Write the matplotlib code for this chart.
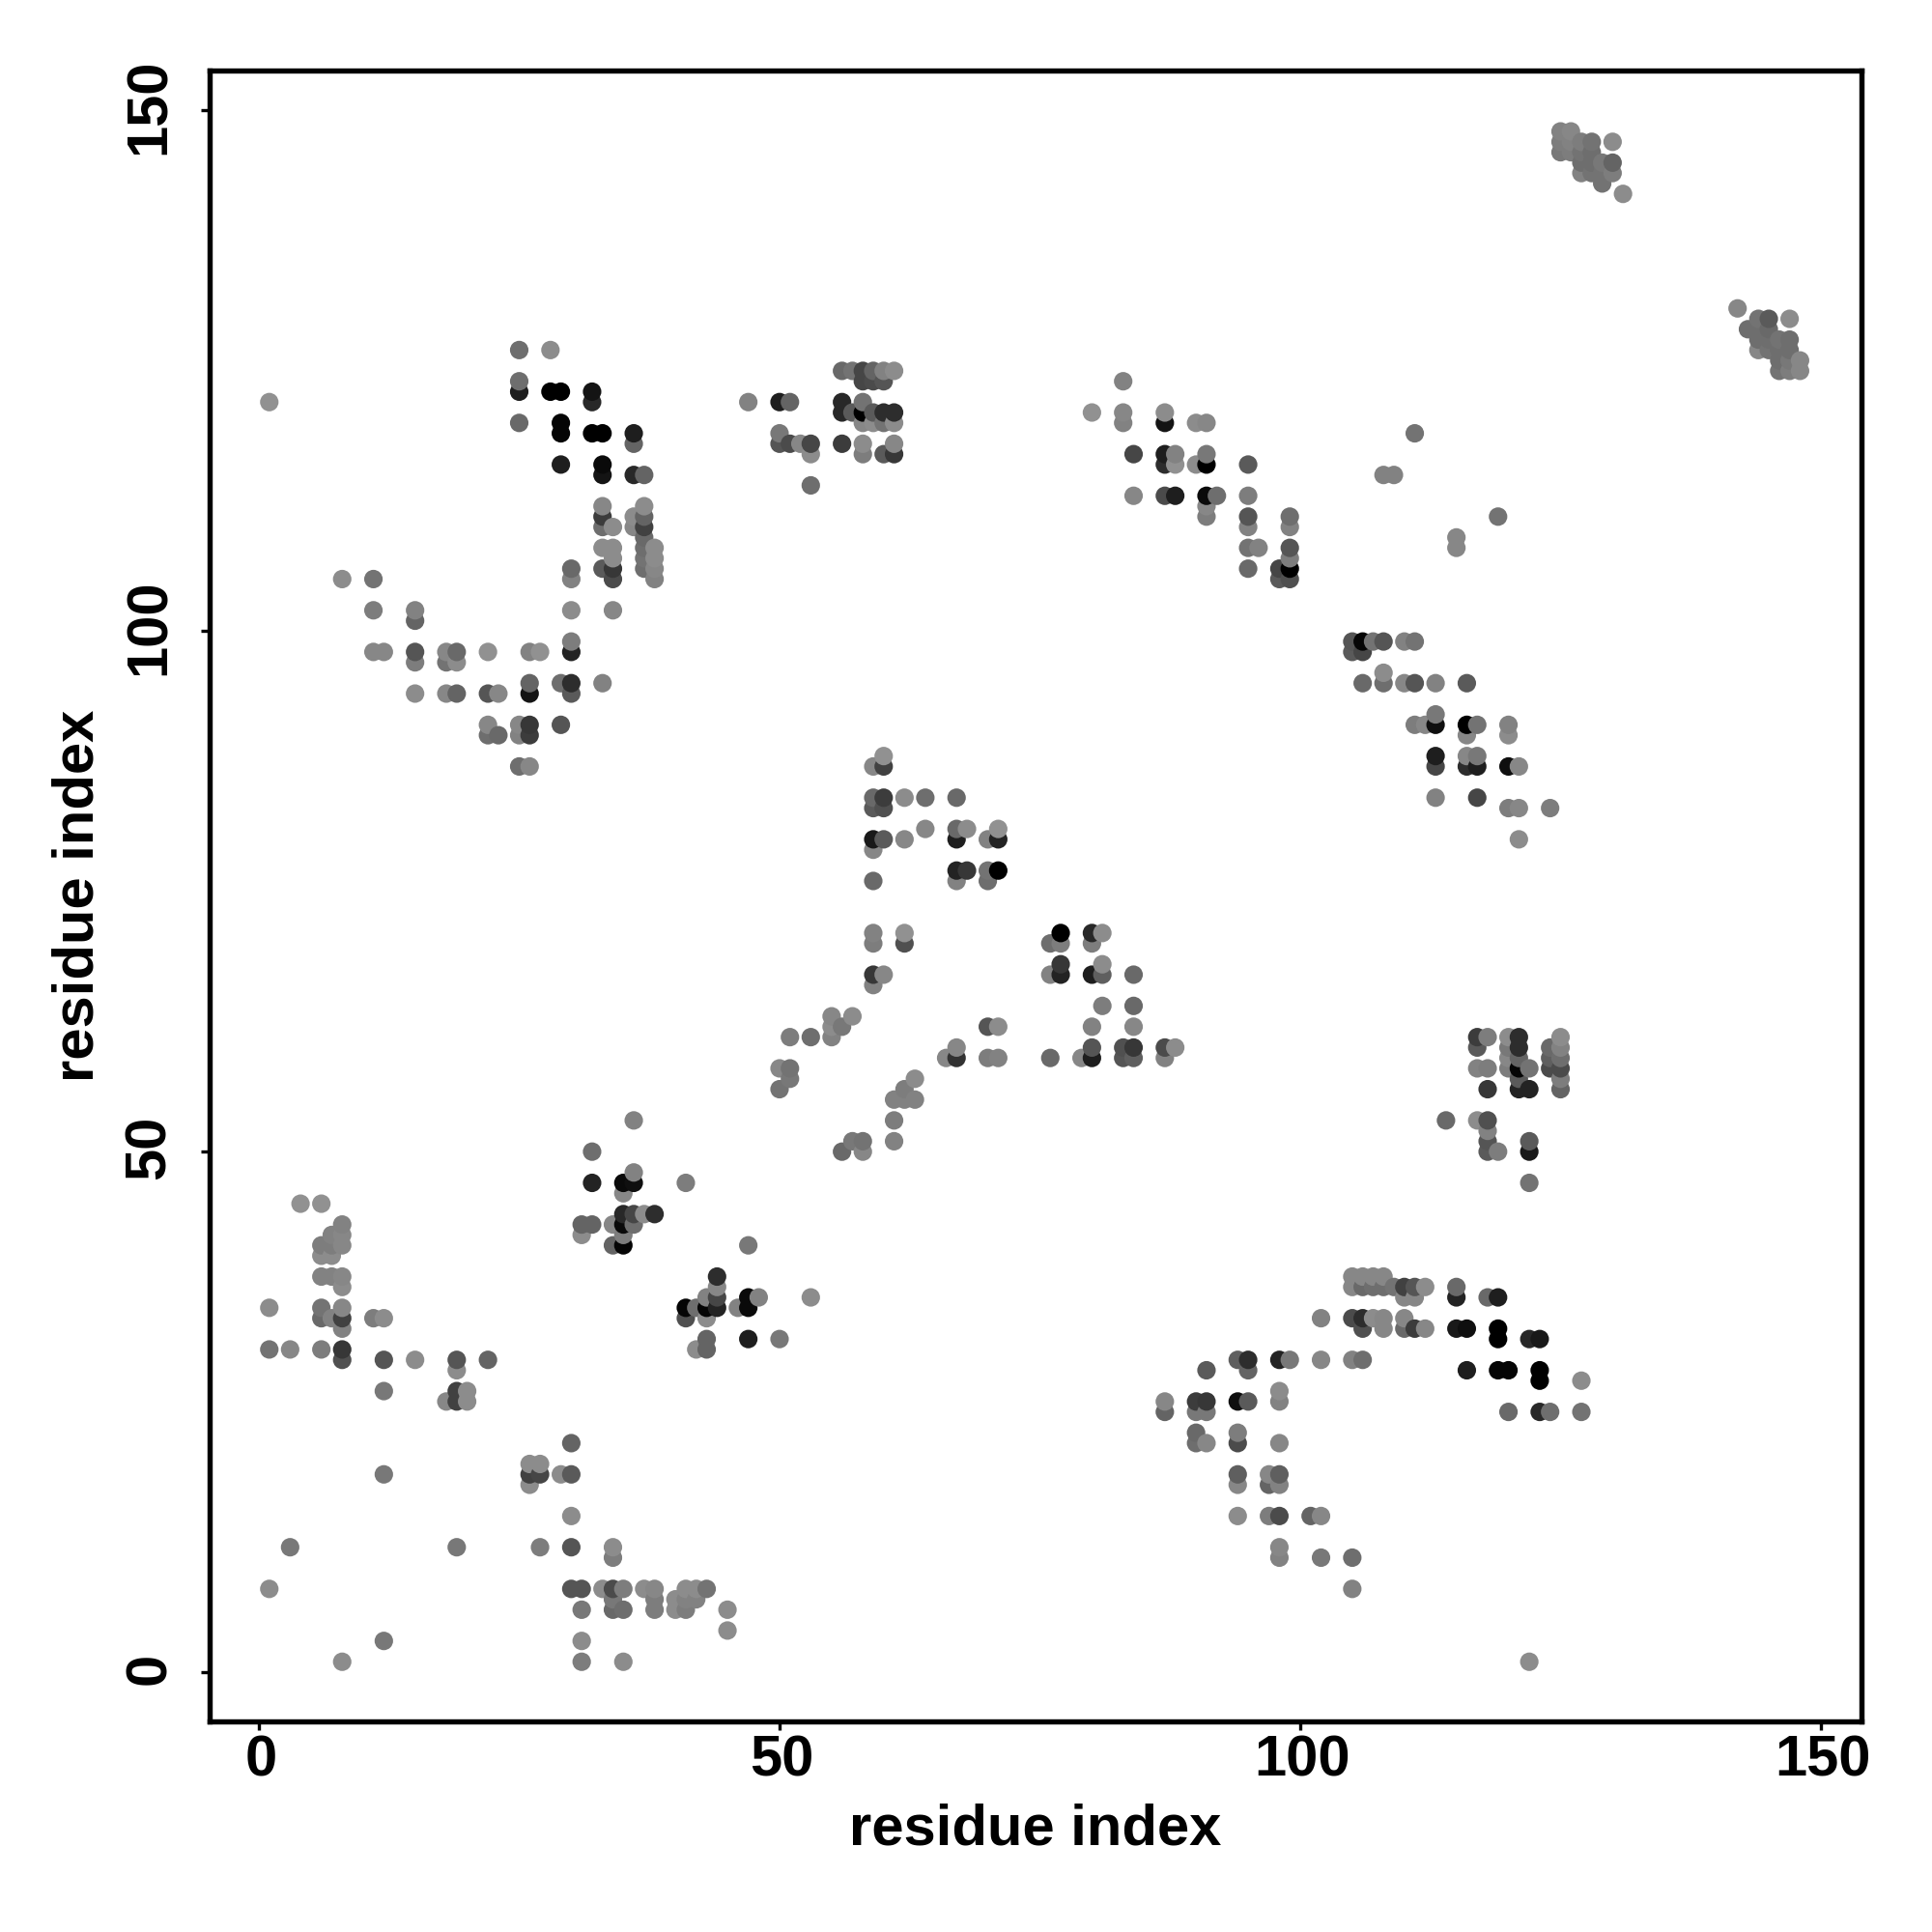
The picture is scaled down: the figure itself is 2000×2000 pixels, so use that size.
import numpy as np
import pandas as pd
import matplotlib
matplotlib.use("Agg")
import matplotlib.pyplot as plt
from matplotlib.transforms import ScaledTranslation

plt.rcParams["font.family"] = ["Liberation Sans", "DejaVu Sans"]
plt.rcParams["font.weight"] = "bold"

TICKS = [0, 50, 100, 150]
AXIS_LABEL = "residue index"

# bottom-left contacts
a_x = [4, 6, 8, 7, 8, 6, 7, 8, 6, 7, 6, 7, 8, 8, 1, 6, 8,
       6, 7, 8, 11, 12, 8, 1, 3, 6, 8, 8, 12, 15, 19, 22, 19,
       12, 19, 20, 18, 19, 20, 30, 26, 27, 12, 26, 27, 29, 30, 26, 30,
       3, 19, 27, 30, 34, 34, 1, 30, 31, 33, 34, 35, 37, 38, 41, 42, 43,
       34, 38, 40, 41, 42, 31, 34, 35, 38, 40, 41, 45, 45, 12, 31, 8, 31, 35]
a_y = [45, 45, 43, 42, 42, 41, 41, 41, 40, 40, 38, 38, 38, 37, 35, 35, 35,
       34, 34, 34, 34, 34, 33, 31, 31, 31, 31, 30, 30, 30, 30, 30, 29,
       27, 27, 27, 26, 26, 26, 22, 20, 20, 19, 19, 19, 19, 19, 18, 15,
       12, 12, 12, 12, 12, 11, 8, 8, 8, 8, 8, 8, 8, 8, 8, 8, 8,
       7, 7, 7, 7, 7, 6, 6, 6, 6, 6, 6, 6, 4, 3, 3, 1, 1, 1]
a_g = [145, 145, 130, 130, 135, 125, 125, 135, 140, 140, 130, 130, 135, 140, 140, 115, 135,
       105, 130, 65, 125, 140, 130, 115, 135, 125, 55, 80, 85, 140, 85, 100, 140,
       120, 65, 140, 135, 65, 140, 100, 140, 140, 120, 65, 70, 140, 90, 140, 140,
       120, 120, 125, 85, 140, 125, 140, 85, 85, 140, 75, 125, 140, 135, 140, 140, 115,
       120, 125, 140, 130, 130, 120, 105, 110, 125, 140, 125, 140, 140, 120, 140, 140, 125, 140]

# block around (40, 40)
b_x = [36, 32, 36, 32, 35, 36, 41, 35, 35, 36, 37, 38, 31, 32, 34, 35, 36, 31, 35, 34, 35, 47,
       44, 44, 43, 44, 47, 48, 53, 41, 42, 43, 44, 46, 47, 41, 43, 43, 47, 50, 42, 43]
b_y = [53, 50, 48, 47, 47, 47, 47, 46, 44, 44, 44, 44, 43, 43, 43, 43, 43, 42, 42, 41, 41, 41,
       38, 37, 36, 36, 36, 36, 36, 35, 35, 35, 35, 35, 35, 34, 34, 32, 32, 32, 31, 31]
b_g = [130, 110, 130, 35, 10, 15, 125, 135, 40, 70, 140, 45, 100, 100, 135, 10, 110, 140, 125, 100, 5, 120,
       45, 135, 130, 70, 10, 130, 140, 5, 110, 5, 35, 130, 10, 80, 140, 100, 30, 120, 140, 100]

# top-left arm
c_x = [1, 25, 28, 25, 25, 28, 29, 32, 32, 25, 29, 29, 32, 33, 36, 36, 29, 33, 33, 36, 37,
       33, 33, 33, 34, 36, 36, 37, 37, 37, 37, 37, 37, 37, 38, 38, 38, 38, 33, 34, 34,
       33, 34, 34, 30, 30, 8, 11, 11, 15, 15, 30, 34, 30, 30, 11, 12, 15, 15, 18, 19, 18, 19,
       22, 26, 27, 26, 26, 29, 30, 30, 33, 15, 18, 19, 22, 23, 22, 22, 23,
       25, 26, 25, 26, 29, 25, 26]
c_y = [122, 127, 127, 124, 123, 123, 123, 123, 122, 120, 120, 119, 119, 119, 119, 118, 116, 116, 115, 115, 115,
       112, 111, 110, 110, 111, 110, 112, 111, 110, 109, 108, 107, 106, 108, 107, 106, 105, 108, 108, 107,
       106, 106, 105, 106, 105, 105, 105, 102, 102, 101, 102, 102, 99, 98, 98, 98, 98, 97, 98, 98, 97, 97,
       98, 98, 98, 95, 94, 95, 95, 94, 95, 94, 94, 94, 94, 94, 91, 90, 90,
       91, 91, 90, 90, 91, 87, 87]
c_g = [145, 110, 140, 110, 30, 0, 0, 20, 40, 105, 5, 5, 0, 0, 30, 100, 30, 10, 20, 40, 100,
       135, 60, 110, 140, 140, 135, 140, 100, 65, 105, 110, 115, 110, 140, 140, 135, 130, 140, 140, 140,
       90, 55, 75, 105, 130, 140, 115, 125, 130, 100, 140, 135, 125, 35, 135, 135, 85, 125, 135, 105, 115, 140,
       145, 130, 145, 100, 20, 110, 45, 90, 130, 140, 135, 100, 85, 135, 135, 110, 105,
       135, 55, 130, 60, 85, 110, 135]

# top-middle block
d_x = [56, 57, 58, 59, 60, 61, 58, 59, 60, 47, 50, 51, 56, 58, 56, 57, 58, 59, 60, 61,
       58, 59, 60, 61, 50, 50, 51, 52, 53, 56, 58, 61, 53, 58, 60, 61, 53]
d_y = [125, 125, 125, 125, 125, 125, 124, 124, 124, 122, 122, 122, 122, 122, 121, 121, 121, 121, 121, 121,
       120, 120, 120, 120, 119, 118, 118, 118, 118, 118, 118, 118, 117, 117, 117, 117, 114]
d_g = [105, 115, 70, 100, 130, 140, 70, 75, 85, 130, 30, 100, 40, 115, 40, 90, 0, 90, 45, 45,
       135, 140, 115, 140, 120, 85, 75, 135, 70, 60, 140, 135, 140, 125, 90, 55, 110]

# diagonal strand from (80, 121)
e_x = [83, 80, 83, 87, 83, 87, 90, 91, 84, 87, 88, 91, 87, 88, 90, 91, 95, 84, 87, 88, 91, 92, 95,
       91, 91, 95, 99, 95, 99, 95, 96, 99, 99, 95, 98, 99, 98, 99]
e_y = [124, 121, 121, 121, 120, 120, 120, 120, 117, 117, 117, 117, 116, 116, 116, 116, 116, 113, 113, 113, 113, 113, 113,
       112, 111, 111, 111, 110, 110, 108, 108, 108, 107, 106, 106, 106, 105, 105]
e_g = [130, 145, 135, 140, 130, 20, 140, 135, 70, 30, 130, 120, 45, 145, 140, 0, 90, 135, 75, 30, 10, 110, 125,
       135, 125, 85, 110, 130, 130, 115, 130, 85, 125, 105, 70, 0, 90, 80]

# centre, upper block
f_x = [60, 59, 60, 59, 60, 62, 64, 67, 59, 60, 64, 67, 68, 71, 59, 60, 62, 67, 70, 71, 59,
       67, 68, 70, 71, 59, 67, 70, 59, 62, 59, 62, 59, 60, 59]
f_y = [88, 87, 87, 84, 84, 84, 84, 84, 83, 83, 81, 81, 81, 81, 80, 80, 80, 80, 80, 80, 79,
       77, 77, 77, 77, 76, 76, 76, 71, 71, 70, 70, 67, 67, 66]
f_g = [145, 135, 65, 105, 60, 140, 110, 105, 90, 80, 135, 105, 140, 145, 25, 90, 135, 30, 130, 35, 135,
       35, 55, 115, 0, 105, 130, 110, 130, 145, 125, 80, 55, 135, 130]

# centre, lower strands
g_x = [55, 57, 55, 56, 51, 53, 55, 50, 51, 51, 50, 63, 62, 61, 62, 63, 61, 61, 57, 58, 56, 58,
       70, 71, 67, 66, 67, 70, 71]
g_y = [63, 63, 62, 62, 61, 61, 61, 58, 58, 57, 56, 57, 56, 55, 55, 55, 53, 51, 51, 51, 50, 50,
       62, 62, 60, 59, 59, 59, 59]
g_g = [135, 140, 140, 120, 125, 110, 130, 135, 115, 120, 115, 140, 125, 130, 130, 130, 125, 130, 120, 115, 105, 135,
       85, 140, 135, 135, 50, 125, 130]

# triangle right of centre
h_x = [77, 80, 81, 76, 77, 80, 77, 81, 76, 77, 80, 81, 84, 81, 84, 80, 84, 80, 83, 84, 87, 88,
       76, 79, 80, 83, 84, 87]
h_y = [71, 71, 71, 70, 70, 70, 68, 68, 67, 67, 67, 67, 67, 64, 64, 62, 62, 60, 60, 60, 60, 60,
       59, 59, 59, 59, 59, 59]
h_g = [0, 40, 140, 110, 125, 125, 55, 140, 130, 35, 30, 95, 105, 125, 105, 130, 135, 85, 80, 55, 75, 140,
       105, 135, 30, 85, 95, 130]

# strand from (105, 99)
i_x = [105, 106, 107, 108, 110, 111, 105, 106, 108, 106, 108, 110, 111, 113, 116, 113, 111, 112, 113, 116, 117, 120,
       116, 120, 113, 116, 117, 113, 116, 117, 120, 121, 113, 117, 120, 121, 124, 121]
i_y = [99, 99, 99, 99, 99, 99, 98, 98, 96, 95, 95, 95, 95, 95, 95, 92, 91, 91, 91, 91, 91, 91,
       90, 90, 88, 88, 88, 87, 87, 87, 87, 87, 84, 84, 83, 83, 83, 80]
i_g = [85, 5, 115, 85, 130, 115, 90, 70, 140, 105, 110, 135, 85, 130, 90, 120, 125, 135, 15, 0, 115, 130,
       135, 140, 30, 135, 120, 70, 45, 30, 15, 135, 130, 70, 125, 135, 125, 140]

# block around (120, 55)
j_x = [117, 118, 120, 121, 125, 117, 120, 121, 124, 125, 120, 121, 124, 125, 117, 118, 120, 121, 122, 124, 125,
       121, 125, 118, 121, 122, 125, 114, 117, 118, 118, 118, 122, 118, 119, 122, 122]
j_y = [61, 61, 61, 61, 61, 60, 60, 60, 60, 60, 59, 59, 59, 59, 58, 58, 58, 58, 58, 58, 58,
       57, 57, 56, 56, 56, 56, 53, 53, 53, 52, 51, 51, 50, 50, 50, 47]
j_g = [60, 125, 140, 45, 140, 90, 120, 45, 105, 130, 135, 100, 95, 110, 130, 125, 125, 5, 115, 75, 75,
       90, 125, 55, 35, 35, 100, 105, 140, 80, 130, 85, 90, 90, 125, 25, 115]

# arc at lower right
k_x = [105, 106, 107, 108, 105, 106, 107, 108, 109, 110, 111, 112, 115, 110, 111, 115, 118, 119,
       102, 105, 106, 107, 108, 110, 106, 108, 110, 111, 112, 115, 116, 119, 119, 122, 123,
       94, 95, 98, 99, 102, 105, 106, 91, 95, 116, 119, 120, 123, 123, 127, 98,
       87, 90, 91, 94, 95, 98, 87, 90, 91, 120, 123, 124, 127,
       90, 94, 90, 91, 94, 98, 94, 97, 98, 94, 97, 98,
       94, 97, 98, 101, 102, 98, 98, 102, 105, 105]
k_y = [38, 38, 38, 38, 37, 37, 37, 37, 37, 37, 37, 37, 37, 36, 36, 36, 36, 36,
       34, 34, 34, 34, 34, 34, 33, 33, 33, 33, 33, 33, 33, 33, 32, 32, 32,
       30, 30, 30, 30, 30, 30, 30, 29, 29, 29, 29, 29, 29, 28, 28, 27,
       26, 26, 26, 26, 26, 26, 25, 25, 25, 25, 25, 25, 25,
       23, 23, 22, 22, 22, 22, 19, 19, 19, 18, 18, 18,
       15, 15, 15, 15, 15, 12, 11, 11, 11, 8]
k_g = [135, 135, 135, 135, 135, 105, 110, 110, 115, 65, 85, 140, 105, 135, 135, 35, 105, 30,
       130, 75, 45, 140, 135, 135, 80, 135, 105, 60, 135, 25, 15, 0, 0, 40, 25,
       95, 45, 35, 120, 135, 130, 110, 90, 100, 30, 5, 5, 0, 0, 140, 140,
       135, 60, 55, 15, 90, 130, 100, 120, 120, 105, 40, 110, 115,
       105, 125, 110, 135, 75, 135, 95, 135, 95, 135, 100, 130,
       140, 125, 75, 100, 135, 135, 130, 120, 110, 130]

# top right cluster
m_x = [125, 126, 125, 126, 127, 128, 130, 125, 126, 127, 128, 127, 128, 129, 130, 127, 128, 129, 130, 129, 131]
m_y = [148, 148, 147, 147, 147, 147, 147, 146, 146, 146, 146, 145, 145, 145, 145, 144, 144, 144, 144, 143, 142]
m_g = [130, 135, 125, 130, 125, 115, 140, 120, 125, 115, 110, 110, 110, 120, 100, 130, 115, 115, 125, 115, 140]

# second right cluster
n_x = [142, 144, 145, 147, 143, 144, 145, 144, 145, 146, 147, 144, 145, 146, 147, 146, 147, 148, 146, 147, 148]
n_y = [131, 130, 130, 130, 129, 129, 129, 128, 128, 128, 128, 127, 127, 127, 127, 126, 126, 126, 125, 125, 125]
n_g = [135, 115, 90, 140, 110, 110, 105, 110, 110, 115, 110, 135, 115, 110, 110, 110, 120, 135, 115, 125, 135]

# scattered single contacts
p_x = [122, 111, 108, 109, 115, 115, 119]
p_y = [1, 119, 115, 115, 109, 108, 111]
p_g = [140, 115, 130, 130, 135, 135, 115]

groups = [(a_x, a_y, a_g), (b_x, b_y, b_g), (c_x, c_y, c_g), (d_x, d_y, d_g),
          (e_x, e_y, e_g), (f_x, f_y, f_g), (g_x, g_y, g_g), (h_x, h_y, h_g),
          (i_x, i_y, i_g), (j_x, j_y, j_g), (k_x, k_y, k_g), (m_x, m_y, m_g),
          (n_x, n_y, n_g), (p_x, p_y, p_g)]

# each group built on its own so a miscounted list fails right away
df = pd.concat([pd.DataFrame({"x": x, "y": y, "g": g}) for x, y, g in groups])
df = df.sort_values(["x", "y"], kind="stable")

fig = plt.figure(figsize=(20, 20), dpi=100)
ax = fig.add_axes([217 / 2000, 1 - 1782 / 2000, (1927 - 217) / 2000, (1782 - 73) / 2000])

ax.scatter(df["x"], df["y"], s=190, c=[str(v / 255) for v in df["g"]],
           linewidths=0, clip_on=False, zorder=3)

ax.set_xlim(-4.73, 153.9)
ax.set_ylim(-4.73, 153.85)
ax.set_xticks(TICKS)
ax.set_yticks(TICKS)
ax.tick_params(axis="both", length=6.5, width=2.4, labelsize=43)
ax.tick_params(axis="x", pad=3)
ax.tick_params(axis="y", pad=18)
for lab in ax.get_yticklabels():
    lab.set_rotation(90)
    lab.set_va("center")
    # rotated digits sit a little low otherwise
    lab.set_transform(lab.get_transform() + ScaledTranslation(0, 4 / 100, fig.dpi_scale_trans))
for lab in ax.get_xticklabels():
    lab.set_transform(lab.get_transform() + ScaledTranslation(2 / 100, 0, fig.dpi_scale_trans))
for side in ax.spines.values():
    side.set_linewidth(3.9)

ax.set_xlabel(AXIS_LABEL, fontsize=43, fontweight="bold", labelpad=12)
ax.set_ylabel(AXIS_LABEL, fontsize=43, fontweight="bold", labelpad=14)

fig.savefig("out.png", dpi=100, facecolor="white")
